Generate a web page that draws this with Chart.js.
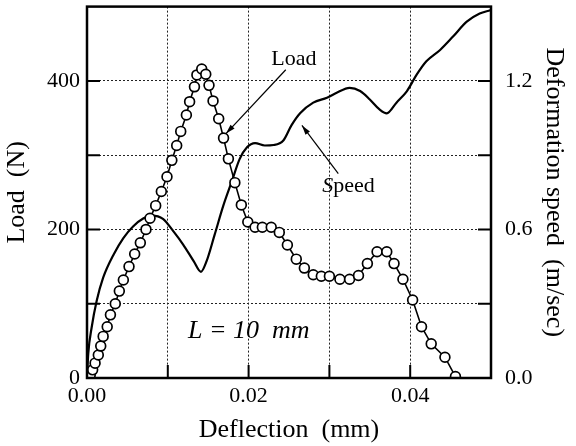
<!DOCTYPE html>
<html>
<head>
<meta charset="utf-8">
<script src="https://cdn.jsdelivr.net/npm/chart.js@4"></script>
<style>
  html, body { margin: 0; padding: 0; background: #fff; }
  #wrap { width: 576px; height: 446px; position: relative; }
</style>
</head>
<body>
<div id="wrap"><canvas id="chart"></canvas></div>
<script>
// Load curve (open circles): deflection in mm, load in N
const loadX = [0.0000, 0.0004, 0.0007, 0.0010, 0.0014, 0.0017, 0.0020, 0.0025, 0.0029, 0.0035,
  0.0040, 0.0045, 0.0052, 0.0059, 0.0066, 0.0073, 0.0078, 0.0085, 0.0092, 0.0099,
  0.0105, 0.0111, 0.0116, 0.0123, 0.0127, 0.0133, 0.0136, 0.0142, 0.0147, 0.0151,
  0.0156, 0.0163, 0.0169, 0.0175, 0.0183, 0.0191, 0.0199, 0.0208, 0.0217, 0.0228,
  0.0238, 0.0248, 0.0259, 0.0269, 0.0280, 0.0290, 0.0300, 0.0313, 0.0325, 0.0336,
  0.0347, 0.0359, 0.0371, 0.0380, 0.0391, 0.0403, 0.0414, 0.0426, 0.0443, 0.0456];
const loadY = [0, 4, 11, 20, 31, 43, 56, 69, 85, 100,
  117, 132, 150, 167, 182, 200, 215, 232, 251, 271,
  293, 313, 332, 354, 372, 392, 408, 416, 409, 394,
  373, 349, 323, 295, 263, 233, 210, 203, 203, 203,
  196, 179, 160, 148, 139, 137, 137, 133, 133, 138,
  154, 170, 170, 154, 133, 105, 69, 46, 28, 2];

// Speed curve (solid line): deflection in mm, deformation speed in m/sec
const speedX = [0, 0.00016, 0.00058, 0.0012, 0.0020, 0.0033, 0.0045, 0.0057, 0.0070, 0.0080,
  0.0094, 0.0107, 0.0119, 0.0132, 0.0141, 0.0148, 0.0158, 0.0169, 0.0179, 0.0189,
  0.0198, 0.0208, 0.0220, 0.0231, 0.0243, 0.0253, 0.0264, 0.0280, 0.0297, 0.0309,
  0.0325, 0.0338, 0.0350, 0.0362, 0.0371, 0.0383, 0.0396, 0.0408, 0.0420, 0.0437,
  0.0453, 0.0470, 0.0486, 0.0499];
const speedY = [0, 0.10, 0.205, 0.312, 0.405, 0.499, 0.565, 0.612, 0.645, 0.656,
  0.643, 0.592, 0.539, 0.472, 0.429, 0.472, 0.579, 0.699, 0.792, 0.885,
  0.932, 0.949, 0.939, 0.941, 0.959, 1.02, 1.07, 1.112, 1.132, 1.152,
  1.172, 1.159, 1.125, 1.085, 1.069, 1.112, 1.159, 1.225, 1.279, 1.325,
  1.379, 1.439, 1.472, 1.485];

const xTickLabels = ['0.00', '0.02', '0.04'];
const loadTickLabels = ['0', '200', '400'];
const speedTickLabels = ['0.0', '0.6', '1.2'];

const SERIF = '"Liberation Serif", "Times New Roman", serif';

function toPoints(xs, ys) {
    return xs.map((x, i) => ({ x: x, y: ys[i] }));
}

// frame, inward ticks and the text/arrow annotations
const decorations = {
    id: 'decorations',
    afterDatasetsDraw(chart) {
        const ctx = chart.ctx;
        const a = chart.chartArea;
        const sx = chart.scales.x, sy = chart.scales.y, s2 = chart.scales.y2;
        const tick = 13;

        ctx.save();
        ctx.strokeStyle = '#000';
        ctx.lineWidth = 2;
        ctx.beginPath();
        [100, 200, 300, 400].forEach(v => {
            const y = sy.getPixelForValue(v);
            ctx.moveTo(a.left, y); ctx.lineTo(a.left + tick, y);
        });
        [0.3, 0.6, 0.9, 1.2].forEach(v => {
            const y = s2.getPixelForValue(v);
            ctx.moveTo(a.right, y); ctx.lineTo(a.right - tick, y);
        });
        [0.01, 0.02, 0.03, 0.04].forEach(v => {
            const x = sx.getPixelForValue(v);
            ctx.moveTo(x, a.bottom); ctx.lineTo(x, a.bottom - tick);
        });
        ctx.stroke();

        ctx.lineWidth = 2.5;
        ctx.strokeRect(a.left, a.top, a.right - a.left, a.bottom - a.top);

        const px = v => sx.getPixelForValue(v);
        const py = v => sy.getPixelForValue(v);

        const arrow = (x1, y1, x2, y2) => {
            ctx.lineWidth = 1.2;
            ctx.beginPath();
            ctx.moveTo(x1, y1); ctx.lineTo(x2, y2);
            ctx.stroke();
            const ang = Math.atan2(y2 - y1, x2 - x1);
            const len = 10, w = 0.28;
            ctx.beginPath();
            ctx.moveTo(x2, y2);
            ctx.lineTo(x2 - len * Math.cos(ang - w), y2 - len * Math.sin(ang - w));
            ctx.lineTo(x2 - len * Math.cos(ang + w), y2 - len * Math.sin(ang + w));
            ctx.closePath();
            ctx.fillStyle = '#000';
            ctx.fill();
        };

        ctx.fillStyle = '#000';
        ctx.textBaseline = 'middle';
        ctx.textAlign = 'center';
        ctx.font = '22px ' + SERIF;
        ctx.fillText('Load', px(0.0256), py(429));
        arrow(px(0.0246), py(415), px(0.0172), py(329));

        // "Speed" with an italic S
        ctx.textAlign = 'left';
        ctx.font = 'italic 22px ' + SERIF;
        const sLeft = px(0.0291);
        ctx.fillText('S', sLeft, py(258));
        const sw = ctx.measureText('S').width;
        ctx.font = '22px ' + SERIF;
        ctx.fillText('peed', sLeft + sw, py(258));
        arrow(px(0.0311), py(275), px(0.0266), py(340));

        ctx.font = 'italic 26px ' + SERIF;
        ctx.fillText('L = 10  mm', px(0.0125), py(63));
        ctx.restore();
    }
};

const gridStyle = { color: '#222', lineWidth: 1, drawTicks: false };
const dashBorder = { display: false, dash: [2, 2] };
const tickFont = { family: SERIF, size: 22 };
const titleFont = { family: SERIF, size: 26 };

new Chart(document.getElementById('chart'), {
    type: 'scatter',
    data: {
        datasets: [
            {
                label: 'Load',
                data: toPoints(loadX, loadY),
                yAxisID: 'y',
                showLine: true,
                borderColor: '#000',
                borderWidth: 1.6,
                pointRadius: 4.9,
                pointBorderWidth: 1.7,
                pointBorderColor: '#000',
                pointBackgroundColor: loadX.map((x, i) => i === 0 ? '#000' : '#fff'),
                tension: 0
            },
            {
                label: 'Speed',
                data: toPoints(speedX, speedY),
                yAxisID: 'y2',
                showLine: true,
                borderColor: '#000',
                borderWidth: 2.2,
                pointRadius: 0,
                cubicInterpolationMode: 'monotone'
            }
        ]
    },
    options: {
        responsive: true,
        maintainAspectRatio: false,
        animation: false,
        layout: { padding: { top: 3, left: 0, right: 0, bottom: 0 } },
        plugins: {
            legend: { display: false },
            tooltip: { enabled: false }
        },
        scales: {
            x: {
                type: 'linear',
                min: 0,
                max: 0.05,
                grid: gridStyle,
                border: dashBorder,
                ticks: {
                    stepSize: 0.01,
                    padding: 5,
                    color: '#000',
                    font: tickFont,
                    maxRotation: 0,
                    callback: v => {
                        const k = Math.round(v * 100);
                        return k % 2 === 0 ? xTickLabels[k / 2] : '';
                    }
                },
                title: { display: true, text: 'Deflection  (mm)', color: '#000', font: titleFont, padding: 0 },
                afterFit: scale => {
                    scale.height = 68;
                    scale.paddingLeft = 0;
                    scale.paddingRight = 0;
                }
            },
            y: {
                position: 'left',
                min: 0,
                max: 500,
                grid: gridStyle,
                border: dashBorder,
                ticks: {
                    stepSize: 100,
                    padding: 7,
                    color: '#000',
                    font: tickFont,
                    callback: v => {
                        const k = Math.round(v / 100);
                        return k % 2 === 0 ? (loadTickLabels[k / 2] || '') : '';
                    }
                },
                title: { display: true, text: 'Load  (N)', color: '#000', font: titleFont, padding: { top: 1.5, bottom: 0 } },
                afterFit: scale => {
                    scale.width = 87;
                    scale.paddingTop = 0;
                    scale.paddingBottom = 0;
                }
            },
            y2: {
                position: 'right',
                min: 0,
                max: 1.5,
                grid: { drawOnChartArea: false, drawTicks: false },
                border: { display: false },
                ticks: {
                    stepSize: 0.3,
                    padding: 14,
                    color: '#000',
                    font: tickFont,
                    callback: v => {
                        const k = Math.round(v * 10 / 3);
                        return k % 2 === 0 ? (speedTickLabels[k / 2] || '') : '';
                    }
                },
                title: { display: true, text: 'Deformation speed  (m/sec)', color: '#000', font: titleFont, padding: { top: 7, bottom: 0 } },
                afterFit: scale => {
                    scale.width = 85;
                    scale.paddingTop = 0;
                    scale.paddingBottom = 0;
                }
            }
        }
    },
    plugins: [decorations]
});
</script>
</body>
</html>
